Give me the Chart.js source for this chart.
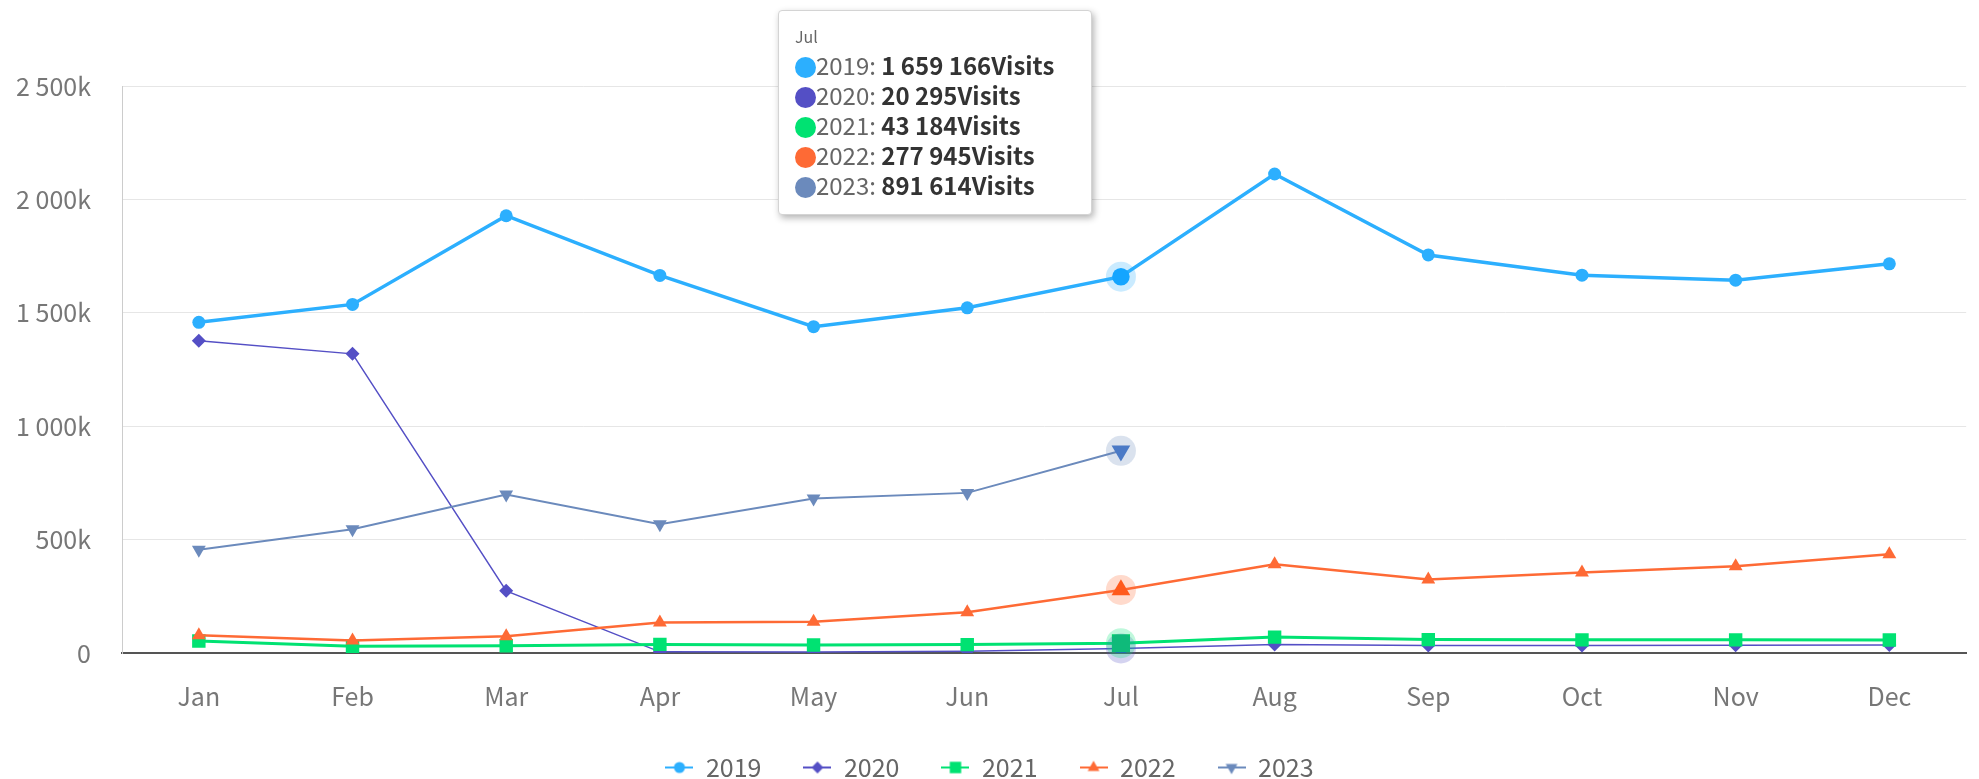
<!DOCTYPE html>
<html>
<head>
<meta charset="utf-8">
<title>Visits per month</title>
<script src="https://cdn.jsdelivr.net/npm/chart.js@4.4.0/dist/chart.umd.min.js"></script>
<style>
  html, body { margin: 0; padding: 0; background: #fff; overflow: hidden; }
  #wrap { position: relative; width: 1979px; height: 779px; }
  #chart { display: block; }
  #tip {
    position: absolute; top: 10px; left: 0;
    box-sizing: border-box; width: 314px; height: 205px; padding: 14px 16px 0 16px;
    background: #fff; border: 1px solid #d4d4d4; border-radius: 4px;
    box-shadow: 2px 3px 7px rgba(0,0,0,0.3);
    font-family: "Noto Sans CJK JP", "Noto Sans", sans-serif; color: #333;
    display: none;
  }
  #tip .title { font-size: 16px; color: #666; line-height: 22px; margin-bottom: 3px; }
  #tip .row { font-size: 24px; line-height: 30px; white-space: nowrap; }
  #tip .dot { display: inline-block; width: 21px; height: 21px; border-radius: 50%; vertical-align: -3px; }
  #tip .lab { color: #666; }
  #tip b { font-weight: bold; color: #333; }
</style>
</head>
<body>
<div id="wrap">
  <canvas id="chart" width="1979" height="779"></canvas>
  <div id="tip"></div>
</div>
<script>
const months = ['Jan', 'Feb', 'Mar', 'Apr', 'May', 'Jun', 'Jul', 'Aug', 'Sep', 'Oct', 'Nov', 'Dec'];
const years = ['2019', '2020', '2021', '2022', '2023'];

const visits2019 = [1458000, 1537000, 1928000, 1665000, 1439000, 1522000, 1659166, 2112000, 1755000, 1666000, 1644000, 1716000];
const visits2020 = [1377000, 1319000, 274000, 5000, 4000, 8000, 20295, 38000, 33000, 33000, 34000, 35000];
const visits2021 = [53000, 30000, 32000, 38000, 35000, 37000, 43184, 70000, 59000, 58000, 58000, 57000];
const visits2022 = [78000, 55000, 74000, 135000, 138000, 180000, 277945, 391000, 324000, 355000, 382000, 435000];
const visits2023 = [455000, 546000, 699000, 568000, 681000, 706000, 891614];

const yTicks = [0, 500000, 1000000, 1500000, 2000000, 2500000];
const hoverMonth = 'Jul';

const colors = ['#2caffe', '#544fc5', '#00e272', '#fe6a35', '#6b8abc'];
const pointStyles = ['circle', 'rectRot', 'rect', 'triangle', 'triangle'];
const rotations = [0, 0, 0, 0, 180];
const radii = [6.5, 7, 9.5, 8, 8];
const lineWidths = [3.5, 1.5, 3, 2.5, 2];

const FONT = '"Noto Sans CJK JP", "Noto Sans", sans-serif';

function spaced(n) {
    return String(Math.round(n)).replace(/\B(?=(\d{3})+(?!\d))/g, ' ');
}

function rgba(hex, a) {
    const n = parseInt(hex.slice(1), 16);
    return `rgba(${(n >> 16) & 255}, ${(n >> 8) & 255}, ${n & 255}, ${a})`;
}

function legendIcon(i) {
    const c = document.createElement('canvas');
    c.width = 28; c.height = 18;
    const g = c.getContext('2d');
    g.strokeStyle = colors[i];
    g.lineWidth = 2;
    g.beginPath(); g.moveTo(0, 9); g.lineTo(28, 9); g.stroke();
    g.fillStyle = colors[i];
    if (Chart.helpers && Chart.helpers.drawPoint) {
        Chart.helpers.drawPoint(g, { pointStyle: pointStyles[i], radius: radii[i] * 0.85, rotation: rotations[i], borderWidth: 0 }, 14, 9);
    } else {
        g.beginPath(); g.arc(14, 9, 6, 0, Math.PI * 2); g.fill();
    }
    return c;
}

const series = [visits2019, visits2020, visits2021, visits2022, visits2023];

// soft circular halo behind hovered points
const haloPlugin = {
    id: 'halo',
    afterDatasetsDraw(chart) {
        const ctx = chart.ctx;
        chart.getActiveElements().forEach(a => {
            const el = a.element;
            ctx.save();
            ctx.fillStyle = rgba(colors[a.datasetIndex], 0.25);
            ctx.beginPath();
            ctx.arc(el.x, el.y, 15, 0, Math.PI * 2);
            ctx.fill();
            ctx.restore();
        });
    }
};

function externalTooltip(context) {
    const tip = document.getElementById('tip');
    const tt = context.tooltip;
    if (tt.opacity === 0 || !tt.dataPoints || !tt.dataPoints.length) {
        tip.style.display = 'none';
        return;
    }
    const pts = tt.dataPoints.slice().sort((a, b) => a.datasetIndex - b.datasetIndex);
    let html = `<div class="title">${pts[0].label}</div>`;
    pts.forEach(p => {
        html += `<div class="row"><span class="dot" style="background:${colors[p.datasetIndex]}"></span>` +
            `<span class="lab">${p.dataset.label}: </span><b>${spaced(p.parsed.y)}Visits</b></div>`;
    });
    tip.innerHTML = html;
    tip.style.display = 'block';
    tip.style.left = (tt.caretX - 29 - tip.offsetWidth) + 'px';
}

// the plot runs to the very edge, no room kept for end labels
function noSidePadding(s) {
    s.paddingLeft = 0;
    s.paddingRight = 0;
}

function drawChart() {
    const datasets = years.map((y, i) => ({
        label: y,
        data: series[i],
        borderColor: colors[i],
        backgroundColor: colors[i],
        borderWidth: lineWidths[i],
        pointStyle: pointStyles[i],
        rotation: rotations[i],
        pointRadius: radii[i],
        pointBorderWidth: 0,
        pointHoverRadius: radii[i] * 1.35,
        pointHoverBorderWidth: 0,
        tension: 0,
        order: -i
    }));

    const chart = new Chart(document.getElementById('chart'), {
        type: 'line',
        data: { labels: months, datasets },
        plugins: [haloPlugin],
        options: {
            responsive: false,
            animation: false,
            events: [],
            devicePixelRatio: 1,
            layout: { padding: { left: 0, top: 86, right: 0, bottom: -11 } },
            interaction: { mode: 'index', intersect: false },
            scales: {
                x: {
                    offset: true,
                    grid: { display: true, drawOnChartArea: false, drawTicks: true, tickLength: 26, color: 'rgba(0,0,0,0)' },
                    border: { display: true, color: '#555', width: 2 },
                    ticks: { color: '#777', font: { family: FONT, size: 25 }, padding: 2 },
                    afterFit: noSidePadding
                },
                y: {
                    min: 0,
                    max: 2500000,
                    afterBuildTicks: s => { s.ticks = yTicks.map(v => ({ value: v })); },
                    afterFit: s => { noSidePadding(s); s.width = 122; },
                    grid: { color: '#e6e6e6', lineWidth: 1, drawTicks: false },
                    border: { display: true, color: '#ccc', width: 1 },
                    ticks: {
                        color: '#777', font: { family: FONT, size: 25 }, padding: 31,
                        callback: v => v === 0 ? '0' : spaced(v / 1000) + 'k'
                    }
                }
            },
            plugins: {
                legend: {
                    position: 'bottom',
                    labels: {
                        usePointStyle: true,
                        pointStyleWidth: 28,
                        padding: 42,
                        font: { family: FONT, size: 25 },
                        color: '#666',
                        generateLabels: ch => ch.data.datasets.map((ds, i) => ({
                            text: ds.label,
                            pointStyle: legendIcon(i),
                            fillStyle: colors[i],
                            strokeStyle: colors[i],
                            lineWidth: 0,
                            fontColor: '#666',
                            hidden: false,
                            datasetIndex: i
                        }))
                    }
                },
                tooltip: { enabled: false, external: externalTooltip }
            }
        }
    });

    const idx = months.indexOf(hoverMonth);
    const active = datasets.map((d, i) => ({ datasetIndex: i, index: idx }));
    chart.setActiveElements(active);
    chart.tooltip.setActiveElements(active, { x: 0, y: 0 });
    chart.update();
}

// make sure the font is ready before Chart.js measures label widths
if (document.fonts && document.fonts.load) {
    Promise.all([
        document.fonts.load('25px "Noto Sans CJK JP"'),
        document.fonts.load('bold 24px "Noto Sans CJK JP"')
    ]).then(drawChart, drawChart);
} else {
    drawChart();
}
</script>
</body>
</html>
